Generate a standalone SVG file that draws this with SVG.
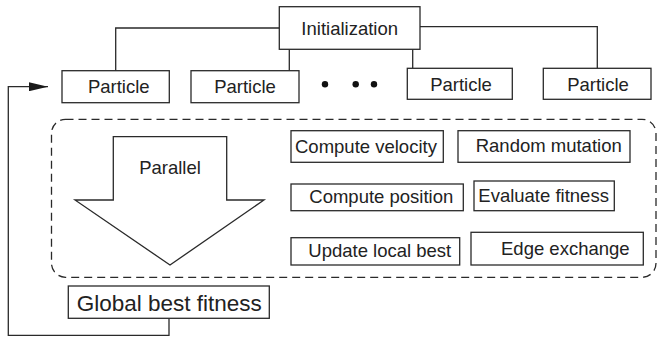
<svg xmlns="http://www.w3.org/2000/svg" width="660" height="346" viewBox="0 0 660 346">
<defs>
<style>
.box{fill:#fff;stroke:#2a2a2a;stroke-width:1.3}
.ln{fill:none;stroke:#2a2a2a;stroke-width:1.3}
text{font-family:"Liberation Sans",Arial,sans-serif;font-size:18.5px;fill:#222}
.big{font-size:22.5px}
</style>
<marker id="ah" markerWidth="19" markerHeight="9" refX="19" refY="4.5" orient="auto" markerUnits="userSpaceOnUse">
<path d="M0,0 L19,4.5 L0,9 Z" fill="#1a1a1a"/>
</marker>
</defs>
<rect width="660" height="346" fill="#fff"/>
<g id="connectors">
<path class="ln" d="M279.3,28 H115.7 V70.7"/>
<path class="ln" d="M289.3,49.3 V70.7"/>
<path class="ln" d="M412.7,49.3 V68.3"/>
<path class="ln" d="M420,26.7 H597.3 V68.3"/>
<path class="ln" d="M169,318.3 V335.3 H8.3 V86.7 H48" marker-end="url(#ah)"/>
</g>
<g id="parallel-region">
<rect x="51.5" y="119.3" width="604.5" height="158" rx="14" ry="14" fill="none" stroke="#2a2a2a" stroke-width="1.3" stroke-dasharray="8,5"/>
</g>
<g id="initialization">
<rect class="box" x="279.3" y="6.7" width="140.7" height="42.6"/>
<text x="349.7" y="35" text-anchor="middle">Initialization</text>
</g>
<g id="particle1">
<rect class="box" x="62" y="70.7" width="107.3" height="32"/>
<text x="118.8" y="93.3" text-anchor="middle">Particle</text>
</g>
<g id="particle2">
<rect class="box" x="191" y="70.7" width="108" height="32"/>
<text x="245" y="93.3" text-anchor="middle">Particle</text>
</g>
<g id="dots">
<circle cx="325" cy="84.3" r="3.2" fill="#111"/>
<circle cx="355.7" cy="84.3" r="3.2" fill="#111"/>
<circle cx="374" cy="84.3" r="3.2" fill="#111"/>
</g>
<g id="particle3">
<rect class="box" x="407.3" y="68.3" width="105" height="31"/>
<text x="461" y="90.5" text-anchor="middle">Particle</text>
</g>
<g id="particle4">
<rect class="box" x="543.3" y="68.3" width="107.7" height="31"/>
<text x="598" y="90.5" text-anchor="middle">Particle</text>
</g>
<g id="parallel-arrow">
<path class="box" d="M113.3,136.7 H226.7 V200 H264 L170,265 L75,200 H113.3 Z"/>
<text x="170" y="174" text-anchor="middle">Parallel</text>
</g>
<g id="compute-velocity">
<rect class="box" x="291" y="130.7" width="152.3" height="31.6"/>
<text x="295" y="153.3">Compute velocity</text>
</g>
<g id="random-mutation">
<rect class="box" x="458" y="130.7" width="172" height="31.6"/>
<text x="475.7" y="152">Random mutation</text>
</g>
<g id="compute-position">
<rect class="box" x="291" y="184" width="172.3" height="26.7"/>
<text x="309.3" y="202.7">Compute position</text>
</g>
<g id="evaluate-fitness">
<rect class="box" x="474" y="181" width="140.3" height="29.7"/>
<text x="478.3" y="201.5">Evaluate fitness</text>
</g>
<g id="update-local-best">
<rect class="box" x="291" y="237.7" width="168.7" height="27.3"/>
<text x="308.3" y="256.7">Update local best</text>
</g>
<g id="edge-exchange">
<rect class="box" x="471" y="232.3" width="172.3" height="32.7"/>
<text x="501" y="255">Edge exchange</text>
</g>
<g id="global-best">
<rect class="box" x="68.3" y="286" width="201" height="32.3"/>
<text class="big" x="76.7" y="310.7">Global best fitness</text>
</g>
</svg>
